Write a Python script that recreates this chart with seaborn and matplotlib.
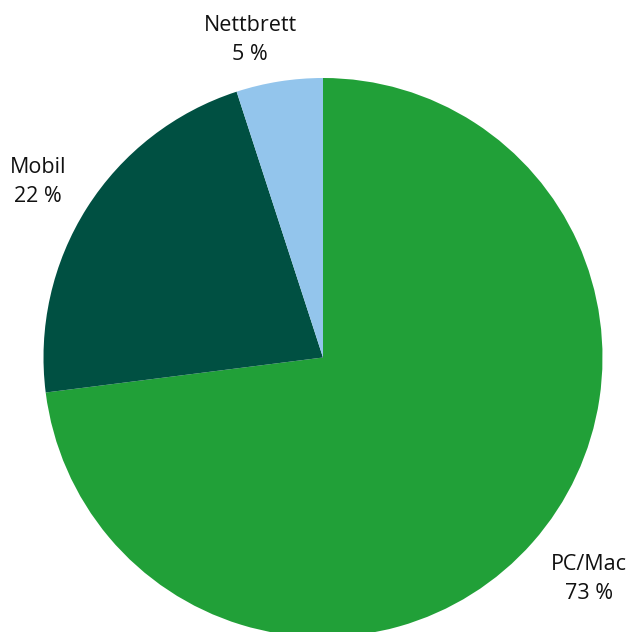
import matplotlib
matplotlib.use("Agg")
import matplotlib.pyplot as plt
import seaborn as sns

# Device share
categories = ["PC/Mac", "Mobil", "Nettbrett"]
shares = [73, 22, 5]
colors = ["#21A038", "#005042", "#93C5EC"]

sns.set_theme(style="white")
plt.rcParams["font.family"] = ["Open Sans", "DejaVu Sans"]

W, H = 629, 632
fig = plt.figure(figsize=(W / 100, H / 100), dpi=100)
ax = fig.add_axes([0, 0, 1, 1])

cx, cy, r = 323, H - 357.5, 279.5
labels = [f"{c}\n{v} %" for c, v in zip(categories, shares)]
wedges, texts = ax.pie(
    shares,
    colors=sns.color_palette(colors),
    startangle=90,
    counterclock=False,
    center=(cx, cy),
    radius=r,
    labels=labels,
    labeldistance=1.0,
    frame=True,
    wedgeprops=dict(linewidth=0),
    textprops=dict(fontsize=15.5, color="#111111", linespacing=1.5,
                   ha="center", va="center"),
)
ax.set_xlim(0, W)
ax.set_ylim(0, H)
ax.set_aspect("equal")
ax.axis("off")

# label positions outside the pie
positions = [(589, H - 579), (38, H - 182), (250, H - 40)]
for t, (x, y) in zip(texts, positions):
    t.set_position((x, y))
    t.set_ha("center")
    t.set_va("center")

fig.savefig("out.png", dpi=100)
